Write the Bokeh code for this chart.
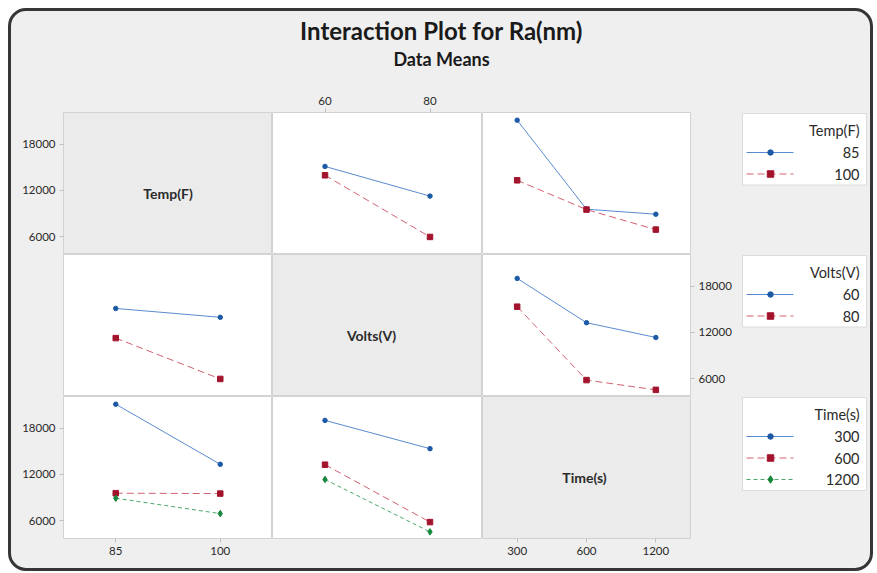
from bokeh.plotting import figure
from bokeh.layouts import column, row
from bokeh.models import (Range1d, FactorRange, FixedTicker, LinearAxis,
                          CategoricalAxis, Label, ColumnDataSource)
from bokeh.core.properties import value
from bokeh.embed import file_html
from bokeh.resources import INLINE

# ---------------- data ----------------
title_text = "Interaction Plot for Ra(nm)"
subtitle_text = "Data Means"
factor_names = ["Temp(F)", "Volts(V)", "Time(s)"]
temp_levels = ["85", "100"]
volts_levels = ["60", "80"]
time_levels = ["300", "600", "1200"]
# mean Ra(nm): rows = levels of first factor, cols = levels of second factor
temp_volts_means = [[15100, 11250], [13950, 5950]]
temp_time_means = [[21100, 9550, 8900], [13300, 9500, 6900]]
volts_time_means = [[19000, 13250, 11330], [15330, 5800, 4530]]
y_ticks = [6000, 12000, 18000]
y_lo, y_hi = 3670, 22100

# ---------------- styles ----------------
FONT = "Lato"
BG = "#efefef"
DIAG_BG = "#ebebeb"
PANEL_LINE = "#d2d2d2"
TEXT = "#2a2a2a"
line_colors = ["#5a8bd0", "#d2606f", "#49a868"]
marker_colors = ["#1c5aa6", "#a3132c", "#14873a"]
markers = ["circle", "square", "diamond"]
marker_sizes = [4.5, 5.5, 6.5]
dashes = ["solid", "7 4", "4 3"]

levels = [temp_levels, volts_levels, time_levels]
pair_means = {(0, 1): temp_volts_means, (0, 2): temp_time_means,
              (1, 2): volts_time_means}


def means(i, j):
    if (i, j) in pair_means:
        return pair_means[(i, j)]
    m = pair_means[(j, i)]
    return [list(c) for c in zip(*m)]


FW = [209, 210, 208]
FH = 142
BL, BR, BT, BB = 52, 50, 22, 30
DIAG_DX = [0, -6, -2]


def style_axis(ax):
    ax.axis_line_color = None
    ax.major_tick_line_color = "#c0c0c0"
    ax.major_tick_out = 4
    ax.major_tick_in = 0
    ax.minor_tick_line_color = None
    ax.major_label_text_font = FONT
    ax.major_label_text_font_size = "11.5px"
    ax.major_label_text_color = TEXT
    ax.major_label_standoff = 4
    return ax


def make_panel(i, j):
    diag = i == j
    f = figure(frame_width=FW[j], frame_height=FH,
               x_range=FactorRange(*levels[j]),
               y_range=Range1d(y_lo, y_hi),
               x_axis_location=None, y_axis_location=None,
               output_backend="svg", toolbar_location=None,
               min_border=0,
               min_border_left=BL if j == 0 else 0,
               min_border_right=BR if j == 2 else 0,
               min_border_top=BT if i == 0 else 0,
               min_border_bottom=BB if i == 2 else 0)
    f.background_fill_color = DIAG_BG if diag else "white"
    f.border_fill_color = None
    f.outline_line_color = PANEL_LINE
    f.outline_line_width = 1
    f.xgrid.visible = False
    f.ygrid.visible = False

    if j == 0 and i in (0, 2):
        f.add_layout(style_axis(LinearAxis(ticker=FixedTicker(ticks=y_ticks))), "left")
    if j == 2 and i == 1:
        f.add_layout(style_axis(LinearAxis(ticker=FixedTicker(ticks=y_ticks))), "right")
    if i == 0 and j == 1:
        f.add_layout(style_axis(CategoricalAxis()), "above")
    if i == 2 and j in (0, 2):
        f.add_layout(style_axis(CategoricalAxis()), "below")

    if diag:
        f.add_layout(Label(x=len(levels[j]) / 2, y=(y_lo + y_hi) / 2,
                           x_offset=DIAG_DX[i], y_offset=-10,
                           text=factor_names[i], text_align="center",
                           text_baseline="middle", text_font=FONT,
                           text_font_size="14px", text_font_style="bold",
                           text_color=TEXT))
    else:
        m = means(i, j)
        for k in range(len(levels[i])):
            src = ColumnDataSource(dict(x=levels[j], y=m[k]))
            f.line("x", "y", source=src, line_color=line_colors[k],
                   line_width=1, line_dash=dashes[k])
            f.scatter("x", "y", source=src, marker=markers[k],
                      size=marker_sizes[k], fill_color=marker_colors[k],
                      line_color=marker_colors[k])
    return f


rows = [row(*[make_panel(i, j) for j in range(3)]) for i in range(3)]
grid = column(*rows)

GRID_W = BL + sum(FW) + BR
GRID_H = BT + 3 * FH + BB
INNER_W = 859
HEAD_H = 79
LEG_W = INNER_W - GRID_W

# ---------------- header ----------------
head = figure(frame_width=INNER_W, frame_height=HEAD_H,
              x_range=Range1d(0, INNER_W), y_range=Range1d(HEAD_H, 0),
              x_axis_location=None, y_axis_location=None,
              output_backend="svg", toolbar_location=None, min_border=0)
head.background_fill_color = None
head.border_fill_color = None
head.outline_line_color = None
head.xgrid.visible = False
head.ygrid.visible = False
head.add_layout(Label(x=430, y=19, text=title_text, text_align="center",
                      text_baseline="middle", text_font=FONT,
                      text_font_size="24px", text_font_style="bold",
                      text_color="#1a1a1a"))
head.add_layout(Label(x=430, y=47, text=subtitle_text, text_align="center",
                      text_baseline="middle", text_font=FONT,
                      text_font_size="18px", text_font_style="bold",
                      text_color="#1a1a1a"))

# ---------------- legends ----------------
leg = figure(frame_width=LEG_W, frame_height=GRID_H,
             x_range=Range1d(0, LEG_W), y_range=Range1d(GRID_H, 0),
             x_axis_location=None, y_axis_location=None,
             output_backend="svg", toolbar_location=None, min_border=0)
leg.background_fill_color = None
leg.border_fill_color = None
leg.outline_line_color = None
leg.xgrid.visible = False
leg.ygrid.visible = False

box_left, box_right = 2, LEG_W - 4
text_right = box_right - 7
for i in range(3):
    top = BT + i * FH + 1
    n = len(levels[i])
    entry_y = [top + 39 + 21.5 * k for k in range(n)]
    bottom = entry_y[-1] + 11
    leg.quad(left=box_left, right=box_right, top=top, bottom=bottom,
             fill_color="white", line_color="#dcdcdc", line_width=1)
    leg.text(x=[text_right], y=[top + 17], text=[factor_names[i]],
             text_align="right", text_baseline="middle",
             text_font=value(FONT), text_font_size="14.5px", text_color=TEXT)
    for k in range(n):
        yk = entry_y[k]
        leg.segment(x0=6, x1=53, y0=yk, y1=yk, line_color=line_colors[k],
                    line_width=1, line_dash=dashes[k])
        leg.scatter(x=[30], y=[yk], marker=markers[k], size=marker_sizes[k] + 1,
                    fill_color=marker_colors[k], line_color=marker_colors[k])
        leg.text(x=[text_right], y=[yk], text=[levels[i][k]],
                 text_align="right", text_baseline="middle",
                 text_font=value(FONT), text_font_size="14.5px", text_color=TEXT)

page = column(head, row(grid, leg),
              styles={"border": "3px solid #363636", "border-radius": "18px",
                      "background-color": BG, "overflow": "hidden",
                      "margin": "8px 0 0 8px"})

open("out.html", "w").write(file_html(page, INLINE, title="Interaction Plot"))
